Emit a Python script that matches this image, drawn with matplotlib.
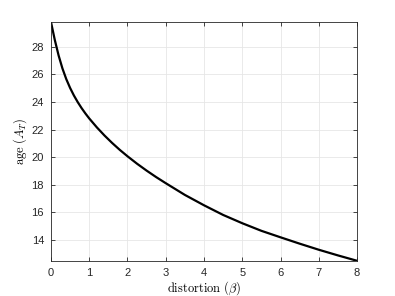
import matplotlib

matplotlib.use("Agg")
import matplotlib.pyplot as plt

# values
distortion = [0, 0.1, 0.2, 0.3, 0.4, 0.5, 0.6, 0.7, 0.8, 0.9, 1.0, 1.2,
              1.4, 1.6, 1.8, 2.0, 2.25, 2.5, 2.75, 3.0, 3.5, 4.0, 4.5, 5.0,
              5.5, 6.0, 6.5, 7.0, 7.5, 8.0]
age = [29.8, 28.5, 27.37, 26.43, 25.66, 25.02, 24.47, 23.99, 23.56, 23.17,
       22.81, 22.16, 21.57, 21.03, 20.53, 20.07, 19.53, 19.03, 18.56, 18.12,
       17.27, 16.52, 15.82, 15.22, 14.67, 14.2, 13.74, 13.3, 12.89, 12.5]
x_ticks = [0, 1, 2, 3, 4, 5, 6, 7, 8]
y_ticks = [14, 16, 18, 20, 22, 24, 26, 28]

plt.rcParams["font.family"] = ["Liberation Sans", "DejaVu Sans"]
plt.rcParams["mathtext.fontset"] = "cm"

fig = plt.figure(figsize=(3.95, 2.96), dpi=100)
ax = fig.add_axes([0.129, 0.118, 0.775, 0.808])

ax.plot(distortion, age, color="black", linewidth=1.6)

ax.set_xlim(0, 8)
ax.set_ylim(12.48, 29.8)
ax.set_xticks(x_ticks)
ax.set_yticks(y_ticks)

ax.grid(True, color="#e6e6e6", linewidth=0.6)
ax.set_axisbelow(True)
ax.tick_params(direction="in", top=True, right=True, length=3, width=0.6,
               labelsize=8, colors="#262626", pad=5)
for spine in ax.spines.values():
    spine.set_linewidth(0.6)
    spine.set_color("#262626")

ax.set_xlabel(r"$\mathrm{distortion}\ (\beta)$", fontsize=9, labelpad=1)
ax.set_ylabel(r"$\mathrm{age}\ (A_T)$", fontsize=9, labelpad=2)

fig.savefig("out.png", dpi=100)
plt.close(fig)
